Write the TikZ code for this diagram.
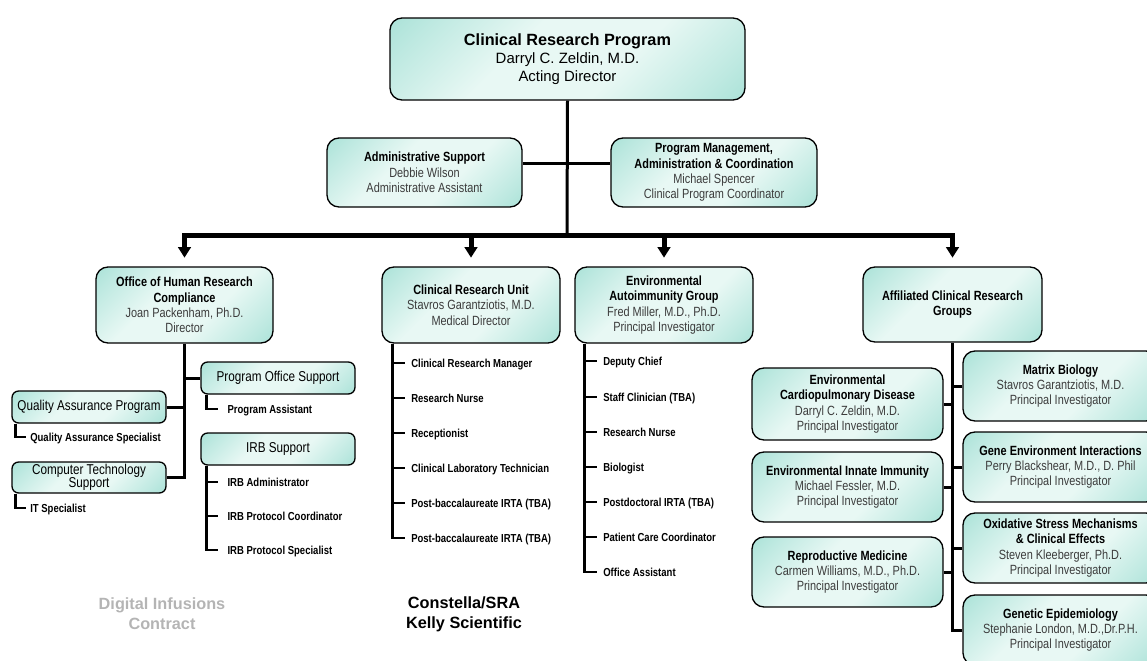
\documentclass[tikz,border=0pt]{standalone}
\usepackage{fontspec}
\setmainfont{Liberation Sans}
\newfontfamily\nar{Liberation Sans}[FakeStretch=0.82]
\usetikzlibrary{arrows.meta}
\definecolor{tealD}{RGB}{134,213,198}
\definecolor{tealM}{RGB}{190,233,225}
\definecolor{tealL}{RGB}{232,248,244}
\definecolor{txtG}{RGB}{60,60,60}
\definecolor{ctrG}{RGB}{180,180,180}
\pgfdeclareverticalshading{tealsh}{100bp}{color(0bp)=(tealD); color(22bp)=(tealM); color(40bp)=(tealL); color(60bp)=(tealL); color(78bp)=(tealM); color(100bp)=(tealD)}
\newcommand\nm[1]{\textcolor{txtG}{#1}}
\newcommand\obox[7][]{\node[box,minimum width={(#5-#3)*0.75pt},minimum height={(#6-#4)*0.75pt},#1] (#2) at ({(#3+#5)/2},{(#4+#6)/2}) {#7};}
\tikzset{
  box/.style={draw=black, line width=1pt, rounded corners=9pt,
    shade, shading=tealsh, shading angle=45,
    align=center, inner sep=0pt, font=\nar\fontsize{10}{11.5}\selectfont},
  sbox/.style={rounded corners=5pt, font=\nar\fontsize{10.7}{10}\selectfont},
  ln/.style={line width=2.25pt},
  tl/.style={line width=2pt},
  arr/.style={line width=3.75pt, -{Triangle[width=9.5pt,length=8pt]}, shorten >=6.5pt},
  item/.style={anchor=west, inner xsep=4.5pt, inner ysep=0pt, text height=6.2pt, text depth=0pt,
    font=\nar\bfseries\fontsize{8.7}{10}\selectfont},
  lbl/.style={align=center, font=\bfseries\fontsize{12.2}{15}\selectfont}
}
\begin{document}
\begin{tikzpicture}[x=0.75pt,y=-0.75pt]
\useasboundingbox (0,0) rectangle (1147,661);
\clip (0,0) rectangle (1147,661);
% top
\obox[font=\fontsize{11.2}{13.5}\selectfont]{top}{390}{18}{745}{100}{{\bfseries\fontsize{12.2}{13.5}\selectfont Clinical Research Program}\\Darryl C. Zeldin, M.D.\\Acting Director}
\obox{admin}{327}{138}{522}{207}{\textbf{Administrative Support}\\\nm{Debbie Wilson}\\\nm{Administrative Assistant}}
\obox{pm}{611}{138}{817}{207}{\textbf{Program Management,}\\\textbf{Administration \& Coordination}\\\nm{Michael Spencer}\\\nm{Clinical Program Coordinator}}
% row 2
\obox{ohrc}{96}{267}{273}{343}{\textbf{Office of Human Research}\\\textbf{Compliance}\\\nm{Joan Packenham, Ph.D.}\\\nm{Director}}
\obox{cru}{382}{267}{560}{343}{\textbf{Clinical Research Unit}\\\nm{Stavros Garantziotis, M.D.}\\\nm{Medical Director}}
\obox{eag}{575}{267}{753}{343}{\textbf{Environmental}\\\textbf{Autoimmunity Group}\\\nm{Fred Miller, M.D., Ph.D.}\\\nm{Principal Investigator}}
\obox{acrg}{863}{267}{1042}{342}{\textbf{Affiliated Clinical Research}\\\textbf{Groups}}
% connectors top
\coordinate (hub) at (567,235);
\coordinate (mid) at (567,163);
\draw[ln] (top.south) -- (hub);
\draw[ln] (admin.east |- mid) -- (pm.west |- mid);
\draw[arr] (hub) -| (ohrc.north);
\draw[arr] (hub) -| (acrg.north);
\draw[arr] (hub -| cru.north) -- (cru.north);
\draw[arr] (hub -| eag.north) -- (eag.north);
% OHRC subtree
\obox[sbox]{pos}{201}{362}{355}{394}{Program Office Support}
\obox[sbox]{qa}{12}{391}{166}{423}{Quality Assurance Program}
\obox[sbox]{cts}{12}{462}{166}{493}{Computer Technology\\Support}
\obox[sbox]{irb}{201}{433}{355}{465}{IRB Support}
\draw[ln] (ohrc.south) |- (cts.east);
\draw[ln] (qa.east) -- (qa.east -| ohrc.south);
\draw[ln] (pos.west) -- (pos.west -| ohrc.south);
\node[item, inner xsep=7pt] (pa) at (218,409) {Program Assistant};
\node[item, inner xsep=3pt] (qas) at (26,437) {Quality Assurance Specialist};
\node[item, inner xsep=3pt] (its) at (26,508) {IT Specialist};
\draw[tl] ([shift={(6,0)}]pos.south west) |- (pa.west);
\draw[tl] ([shift={(4,0)}]qa.south west) |- (qas.west);
\draw[tl] ([shift={(4,0)}]cts.south west) |- (its.west);
\node[item, inner xsep=7pt] (irb1) at (218,482) {IRB Administrator};
\node[item, inner xsep=7pt] (irb2) at (218,516) {IRB Protocol Coordinator};
\node[item, inner xsep=7pt] (irb3) at (218,550) {IRB Protocol Specialist};
\coordinate (irbv) at ([shift={(6,0)}]irb.south west);
\draw[tl] (irbv) |- (irb3.west);
\draw[tl] (irbv |- irb1.west) -- (irb1.west);
\draw[tl] (irbv |- irb2.west) -- (irb2.west);
% CRU subtree
\node[item] (c1) at (405,363) {Clinical Research Manager};
\node[item] (c2) at (405,398) {Research Nurse};
\node[item] (c3) at (405,433) {Receptionist};
\node[item] (c4) at (405,468) {Clinical Laboratory Technician};
\node[item] (c5) at (405,503) {Post-baccalaureate IRTA (TBA)};
\node[item] (c6) at (405,538) {Post-baccalaureate IRTA (TBA)};
\coordinate (cruv) at ([shift={(11,0)}]cru.south west);
\draw[tl] (cruv) |- (c6.west);
\foreach \i in {1,...,5} {\draw[tl] (cruv |- c\i.west) -- (c\i.west);}
% EAG subtree
\node[item] (e1) at (597,361) {Deputy Chief};
\node[item] (e2) at (597,397) {Staff Clinician (TBA)};
\node[item] (e3) at (597,432) {Research Nurse};
\node[item] (e4) at (597,467) {Biologist};
\node[item] (e5) at (597,502) {Postdoctoral IRTA (TBA)};
\node[item] (e6) at (597,537) {Patient Care Coordinator};
\node[item] (e7) at (597,572) {Office Assistant};
\coordinate (eagv) at ([shift={(10,0)}]eag.south west);
\draw[tl] (eagv) |- (e7.west);
\foreach \i in {1,...,6} {\draw[tl] (eagv |- e\i.west) -- (e\i.west);}
% ACRG subtree
\obox{cardio}{752}{368}{943}{440}{\textbf{Environmental}\\\textbf{Cardiopulmonary Disease}\\\nm{Darryl C. Zeldin, M.D.}\\\nm{Principal Investigator}}
\obox{innate}{752}{452}{943}{522}{\textbf{Environmental Innate Immunity}\\\nm{Michael Fessler, M.D.}\\\nm{Principal Investigator}}
\obox{repro}{752}{537}{943}{607}{\textbf{Reproductive Medicine}\\\nm{Carmen Williams, M.D., Ph.D.}\\\nm{Principal Investigator}}
\obox{matrix}{963}{351}{1158}{421}{\textbf{Matrix Biology}\\\nm{Stavros Garantziotis, M.D.}\\\nm{Principal Investigator}}
\obox{gene}{963}{432}{1158}{502}{\textbf{Gene Environment Interactions}\\\nm{Perry Blackshear, M.D., D. Phil}\\\nm{Principal Investigator}}
\obox{oxid}{963}{513}{1158}{583}{\textbf{Oxidative Stress Mechanisms}\\\textbf{\& Clinical Effects}\\\nm{Steven Kleeberger, Ph.D.}\\\nm{Principal Investigator}}
\obox{genepi}{963}{595}{1158}{665}{\textbf{Genetic Epidemiology}\\\nm{Stephanie London, M.D.,Dr.P.H.}\\\nm{Principal Investigator}}
\draw[ln] (acrg.south) |- (genepi.west);
\foreach \n in {cardio,innate,repro} {\draw[ln] (\n.east) -- (\n.east -| acrg.south);}
\foreach \n in {matrix,gene,oxid} {\draw[ln] (\n.west) -- (\n.west -| acrg.south);}
% bottom labels
\node[lbl, text=ctrG] (di) at (162,614) {Digital Infusions\\Contract};
\node[lbl] (cs) at (464,614) {Constella/SRA\\Kelly Scientific};
\end{tikzpicture}
\end{document}
